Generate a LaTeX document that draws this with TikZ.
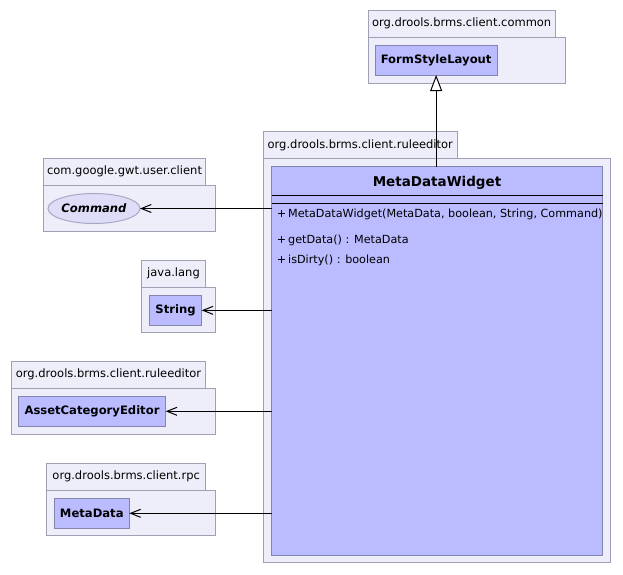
\documentclass[tikz,border=0pt]{standalone}
\usepackage{fontspec}
\setmainfont{DejaVu Sans}
\usetikzlibrary{arrows.meta,shapes.geometric}
\definecolor{pkgfill}{HTML}{EEEEFA}
\definecolor{pkgline}{HTML}{A0A0B4}
\definecolor{clsfill}{HTML}{BBBBFF}
\definecolor{clsline}{HTML}{8484AC}
\definecolor{ifcfill}{HTML}{DDDDF8}
\definecolor{ifcline}{HTML}{A8A8C4}
\newcommand{\pkgfnt}{\fontsize{11.5}{13}\selectfont}
\newcommand{\clsfnt}{\fontsize{11.6}{13}\selectfont\bfseries}
\newcommand{\mainfnt}{\fontsize{13.5}{16}\selectfont\bfseries}
\newcommand{\memfnt}{\fontsize{11.2}{13}\selectfont}
\begin{document}
\begin{tikzpicture}[x=1pt,y=-1pt,
  pkgtab/.style={draw=pkgline, fill=pkgfill, line width=1pt, anchor=north west, inner sep=0pt, outer sep=0pt, font=\pkgfnt},
  pkgbody/.style={draw=pkgline, fill=pkgfill, line width=1pt, anchor=north west, inner sep=0pt, outer sep=0pt},
  clsbox/.style={draw=clsline, fill=clsfill, line width=1pt, anchor=north west, inner sep=0pt, outer sep=0pt, font=\clsfnt},
  ifcbox/.style={ellipse, draw=ifcline, fill=ifcfill, line width=1pt, inner sep=0pt, outer sep=0pt, font=\clsfnt\itshape},
  member/.style={anchor=west, inner sep=0pt, font=\memfnt},
  dep/.style={draw=black, line width=1pt, -{Straight Barb[length=10pt,width=8pt]}},
  gen/.style={draw=black, line width=1pt, -{Triangle[length=16pt,width=12pt,fill=white]}},
  sep/.style={draw=black, line width=1pt}
]
\useasboundingbox[fill=white] (0,0) rectangle (623,574);

% package org.drools.brms.client.common
\node[pkgtab, minimum width=186.7pt, minimum height=27pt] (tabCommon) at (368.3,10.3) {org.drools.brms.client.common};
\node[pkgbody, minimum width=197pt, minimum height=46pt] (pkgCommon) at (368.3,37.3) {};
\node[clsbox, minimum width=122.3pt, minimum height=30pt] (fsl) at (375,45) {FormStyleLayout};

% package org.drools.brms.client.ruleeditor (main)
\node[pkgtab, minimum width=194pt, minimum height=26.3pt] (tabMain) at (263.3,131.7) {org.drools.brms.client.ruleeditor};
\node[pkgbody, minimum width=347.4pt, minimum height=404.5pt] (pkgMain) at (263.3,158) {};
\node[clsbox, minimum width=331pt, minimum height=388.6pt] (cls) at (271.5,166.7) {};
\node[font=\mainfnt, inner sep=0pt] (clsName) at (437,183.3) {MetaDataWidget};
\draw[sep] ([yshift=-28.6pt]cls.north west) -- ([yshift=-28.6pt]cls.north east);
\draw[sep] ([yshift=-36.3pt]cls.north west) -- ([yshift=-36.3pt]cls.north east);
\node[member] (m1) at (276.7,214.3) {+\,MetaDataWidget(MetaData, boolean, String, Command)};
\node[member] (m2) at (276.7,240.7) {+\,getData() : MetaData};
\node[member] (m3) at (276.7,260.3) {+\,isDirty() : boolean};

% package com.google.gwt.user.client
\node[pkgtab, minimum width=162.4pt, minimum height=26.7pt] (tabGwt) at (43.3,158.3) {com.google.gwt.user.client};
\node[pkgbody, minimum width=172.4pt, minimum height=46.3pt] (pkgGwt) at (43.3,185) {};
\node[ifcbox, minimum width=85.6pt, minimum height=30pt] (cmd) at (94,208.5) {Command};

% package java.lang
\node[pkgtab, minimum width=64.4pt, minimum height=26.7pt] (tabLang) at (141.3,260.3) {java.lang};
\node[pkgbody, minimum width=74.4pt, minimum height=45.7pt] (pkgLang) at (141.3,287) {};
\node[clsbox, minimum width=52.4pt, minimum height=30.7pt] (str) at (149.3,295) {String};

% package org.drools.brms.client.ruleeditor (left)
\node[pkgtab, minimum width=194.4pt, minimum height=27pt] (tabEd) at (11.3,361.3) {org.drools.brms.client.ruleeditor};
\node[pkgbody, minimum width=204.4pt, minimum height=46pt] (pkgEd) at (11.3,388.3) {};
\node[clsbox, minimum width=147.4pt, minimum height=30pt] (ace) at (18.3,396.3) {AssetCategoryEditor};

% package org.drools.brms.client.rpc
\node[pkgtab, minimum width=159pt, minimum height=27pt] (tabRpc) at (46.7,463.3) {org.drools.brms.client.rpc};
\node[pkgbody, minimum width=169pt, minimum height=45.4pt] (pkgRpc) at (46.7,490.3) {};
\node[clsbox, minimum width=75pt, minimum height=30pt] (md) at (54.3,498.3) {MetaData};

% connectors
\draw[gen] (fsl.south |- cls.north) -- (fsl.south);
\draw[dep] (cls.west |- cmd.east) -- (cmd.east);
\draw[dep] (cls.west |- str.east) -- (str.east);
\draw[dep] (cls.west |- ace.east) -- (ace.east);
\draw[dep] (cls.west |- md.east) -- (md.east);
\end{tikzpicture}
\end{document}
